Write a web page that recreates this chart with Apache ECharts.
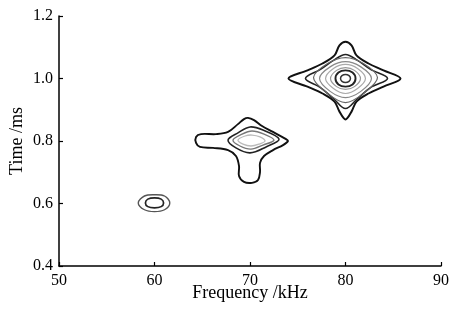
<!DOCTYPE html>
<html>
<head>
<meta charset="utf-8">
<script src="https://cdn.jsdelivr.net/npm/echarts@6/dist/echarts.min.js"></script>
<style>
  html, body { margin: 0; padding: 0; background: #fff; }
  #chart { width: 451px; height: 311px; }
</style>
</head>
<body>
<div id="chart"></div>
<script>
// axis ticks
const freqTicks = [50, 60, 70, 80, 90]
const timeTicks = [0.4, 0.6, 0.8, 1.0, 1.2]

// contour lines, [frequency kHz, time ms]
// blob around 60 kHz / 0.6 ms
const blobA_outer = [[60, 0.628], [61.05, 0.624], [61.6, 0.602], [61.05, 0.58], [60, 0.574], [58.95, 0.58], [58.3, 0.602], [58.95, 0.624]]
const blobA_inner = [[60, 0.618], [60.7, 0.614], [60.95, 0.602], [60.7, 0.59], [60, 0.586], [59.3, 0.59], [59.05, 0.602], [59.3, 0.614]]

// blob around 70 kHz / 0.8 ms
const blobB_outer = [
  [69.79, 0.874], [70.42, 0.867], [71.26, 0.848], [72.41, 0.829], [73.77, 0.806], [73.98, 0.8],
  [73.46, 0.787], [72.41, 0.771], [71.47, 0.752], [71.05, 0.73], [71.05, 0.701], [70.84, 0.675],
  [70.21, 0.666], [69.37, 0.669], [68.85, 0.688], [68.85, 0.72], [68.53, 0.752], [67.7, 0.771],
  [66.13, 0.778], [64.76, 0.781], [64.35, 0.794], [64.35, 0.813], [64.87, 0.822], [66.44, 0.822],
  [67.7, 0.829], [68.74, 0.854], [69.37, 0.87]
]
const blobB_second = [[67.7, 0.803], [68.74, 0.826], [70, 0.845], [71.36, 0.835], [73.04, 0.806], [71.68, 0.781], [70, 0.762], [68.53, 0.778]]
const blobB_third = [[68.22, 0.803], [69.16, 0.822], [70.21, 0.832], [71.47, 0.822], [72.51, 0.803], [71.36, 0.787], [70.1, 0.774], [68.95, 0.784]]
const blobB_fourth = [[68.74, 0.803], [69.48, 0.816], [70.21, 0.819], [71.05, 0.813], [71.57, 0.8], [70.94, 0.79], [70.1, 0.784], [69.27, 0.79]]

// blob around 80 kHz / 1.0 ms
const blobC_outer = [
  [80, 1.118], [80.63, 1.106], [81.15, 1.074], [82.41, 1.048], [83.98, 1.026], [85.76, 1.0],
  [83.98, 0.974], [82.41, 0.952], [81.15, 0.926], [80.63, 0.894], [80, 0.869], [79.37, 0.894],
  [78.85, 0.926], [77.59, 0.952], [76.02, 0.974], [74.03, 1.0], [76.02, 1.026], [77.59, 1.048],
  [78.85, 1.074], [79.37, 1.106]
]
const blobC_second = [[80, 1.077], [81.26, 1.058], [82.62, 1.029], [84.4, 1.0], [82.62, 0.971], [81.26, 0.936], [80, 0.904], [78.74, 0.936], [77.38, 0.971], [75.81, 1.0], [77.38, 1.029], [78.74, 1.058]]
const blobC_g1 = [[80, 1.067], [81.88, 1.048], [83.35, 1.003], [81.99, 0.955], [80, 0.923], [78.01, 0.955], [76.65, 1.003], [78.12, 1.048]]
const blobC_g2 = [[80, 1.054], [81.57, 1.038], [82.72, 1.0], [81.57, 0.958], [80, 0.939], [78.43, 0.958], [77.28, 1.0], [78.43, 1.038]]
const blobC_g3 = [[80, 1.045], [81.26, 1.032], [82.09, 1.0], [81.26, 0.968], [80, 0.952], [78.74, 0.968], [77.91, 1.0], [78.74, 1.032]]
const blobC_g4 = [[80, 1.035], [80.94, 1.026], [81.57, 1.0], [80.94, 0.974], [80, 0.965], [79.06, 0.974], [78.43, 1.0], [79.06, 1.026]]
const blobC_ring = [[80, 1.026], [80.74, 1.019], [81.05, 1.0], [80.74, 0.981], [80, 0.974], [79.26, 0.981], [78.95, 1.0], [79.26, 1.019]]
const blobC_core = [[80, 1.013], [80.37, 1.009], [80.52, 1.0], [80.37, 0.991], [80, 0.987], [79.63, 0.991], [79.48, 1.0], [79.63, 1.009]]

const contours = [
  { pts: blobA_outer, color: '#555', width: 1.4 },
  { pts: blobA_inner, color: '#222', width: 1.7 },
  { pts: blobB_outer, color: '#111', width: 1.9 },
  { pts: blobB_second, color: '#222', width: 1.6 },
  { pts: blobB_third, color: '#777', width: 1.4 },
  { pts: blobB_fourth, color: '#bbb', width: 1.3 },
  { pts: blobC_outer, color: '#111', width: 2 },
  { pts: blobC_second, color: '#222', width: 1.6 },
  { pts: blobC_g1, color: '#666', width: 1.2 },
  { pts: blobC_g2, color: '#888', width: 1.2 },
  { pts: blobC_g3, color: '#aaa', width: 1.2 },
  { pts: blobC_g4, color: '#999', width: 1.2 },
  { pts: blobC_ring, color: '#222', width: 1.9 },
  { pts: blobC_core, color: '#333', width: 1.5 }
]

const serif = 'Liberation Serif'
const chart = echarts.init(document.getElementById('chart'))

chart.setOption({
  animation: false,
  grid: { left: 59, right: 10, top: 16, bottom: 45, outerBoundsMode: 'none' },
  xAxis: {
    type: 'value',
    min: freqTicks[0],
    max: freqTicks[freqTicks.length - 1],
    interval: 10,
    name: 'Frequency /kHz',
    nameLocation: 'center',
    nameGap: 18,
    nameMoveOverlap: false,
    nameTextStyle: { fontFamily: serif, fontSize: 18, color: '#000' },
    axisLine: { show: true, lineStyle: { color: '#000', width: 1.5 } },
    axisTick: { show: true, inside: true, length: 4, lineStyle: { color: '#000', width: 1.2 } },
    axisLabel: { fontFamily: serif, fontSize: 16, color: '#000', margin: 7 },
    splitLine: { show: false }
  },
  yAxis: {
    type: 'value',
    min: timeTicks[0],
    max: timeTicks[timeTicks.length - 1],
    interval: 0.2,
    name: 'Time /ms',
    nameLocation: 'center',
    nameGap: 33,
    nameMoveOverlap: false,
    nameTextStyle: { fontFamily: serif, fontSize: 18, color: '#000' },
    axisLine: { show: true, lineStyle: { color: '#000', width: 1.5 } },
    axisTick: { show: true, inside: true, length: 4, lineStyle: { color: '#000', width: 1.2 } },
    axisLabel: {
      fontFamily: serif, fontSize: 16, color: '#000', margin: 6,
      formatter: (v) => v.toFixed(1)
    },
    splitLine: { show: false }
  },
  series: [{
    type: 'custom',
    coordinateSystem: 'cartesian2d',
    data: contours.map((c) => c.pts[0]),
    renderItem: (params, api) => {
      const c = contours[params.dataIndex]
      return {
        type: 'polygon',
        shape: { points: c.pts.map((p) => api.coord(p)), smooth: 0.35 },
        style: { fill: 'none', stroke: c.color, lineWidth: c.width }
      }
    }
  }]
})
</script>
</body>
</html>
